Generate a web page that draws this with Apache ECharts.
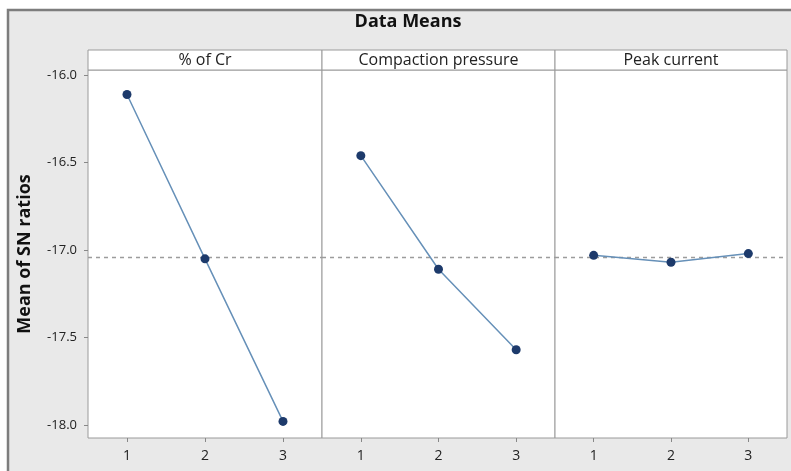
<!DOCTYPE html>
<html>
<head>
<meta charset="utf-8">
<script src="https://cdn.jsdelivr.net/npm/echarts@6/dist/echarts.min.js"></script>
<style>
html,body{margin:0;padding:0;background:#ffffff;}
#chart{width:791px;height:471px;}
</style>
</head>
<body>
<div id="chart"></div>
<script>
const levels = ['1', '2', '3'];
const factors = ['% of Cr', 'Compaction pressure', 'Peak current'];
const crMeans = [-16.11, -17.05, -17.98];
const pressureMeans = [-16.46, -17.11, -17.57];
const currentMeans = [-17.03, -17.07, -17.02];
const overallMean = -17.04;
const yTicks = [-18.0, -17.5, -17.0, -16.5, -16.0];
const yMin = -18.075, yMax = -15.97;

const seriesValues = [crMeans, pressureMeans, currentMeans];
const font = 'Open Sans';
const panelLeft = [88, 322, 555];
const panelWidth = [234, 233, 232];
const plotTop = 70, plotBottomGap = 471 - 438;

const chart = echarts.init(document.getElementById('chart'));

const grids = [], xAxes = [], yAxes = [], series = [], graphics = [];

graphics.push({
  type: 'rect', z: -10, silent: true,
  shape: { x: 8, y: 10, width: 800, height: 480 },
  style: { fill: '#e9e9e9', stroke: '#7d7d7d', lineWidth: 2.5 }
});
graphics.push({
  type: 'text', silent: true,
  style: { text: 'Data Means', x: 408, y: 22, align: 'center', verticalAlign: 'middle',
           font: 'bold 18px "Open Sans"', fill: '#111' }
});

for (let i = 0; i < 3; i++) {
  grids.push({
    left: panelLeft[i], width: panelWidth[i], top: plotTop, bottom: plotBottomGap,
    show: true, backgroundColor: '#ffffff', borderColor: '#9a9a9a', borderWidth: 1,
    containLabel: false
  });
  xAxes.push({
    type: 'category', gridIndex: i, data: levels, boundaryGap: true,
    axisLine: { show: false },
    axisTick: { show: true, alignWithLabel: true, length: 4, lineStyle: { color: '#888' } },
    axisLabel: { color: '#222', fontFamily: font, fontSize: 14, margin: 11 },
    splitLine: { show: false }
  });
  yAxes.push({
    type: 'value', gridIndex: i, min: yMin, max: yMax,
    axisLine: { show: false },
    axisTick: { show: i === 0, length: 4, customValues: yTicks, lineStyle: { color: '#888' } },
    axisLabel: { show: i === 0, customValues: yTicks, color: '#222', fontFamily: font, fontSize: 13,
                 margin: 11, formatter: v => v.toFixed(1) },
    splitLine: { show: false },
    name: i === 0 ? 'Mean of SN ratios' : '',
    nameLocation: 'middle', nameGap: 54, nameRotate: 90,
    nameTextStyle: { fontFamily: font, fontWeight: 'bold', fontSize: 18, color: '#111' }
  });
  series.push({
    type: 'line', xAxisIndex: i, yAxisIndex: i, data: seriesValues[i],
    symbol: 'circle', symbolSize: 9,
    itemStyle: { color: '#1d3a6b' },
    lineStyle: { color: '#6690b8', width: 1.5 },
    z: 5,
    markLine: {
      silent: true, symbol: 'none', label: { show: false },
      lineStyle: { color: '#9c9c9c', type: [4, 4], width: 1.3 },
      data: [{ yAxis: overallMean }]
    }
  });
  graphics.push({
    type: 'rect', silent: true,
    shape: { x: panelLeft[i], y: 50, width: panelWidth[i], height: 20 },
    style: { fill: '#ffffff', stroke: '#9a9a9a', lineWidth: 1 }
  });
  graphics.push({
    type: 'text', silent: true,
    style: { text: factors[i], x: panelLeft[i] + panelWidth[i] / 2, y: 60, align: 'center',
             verticalAlign: 'middle', font: '16px "Open Sans"', fill: '#222' }
  });
}

chart.setOption({
  backgroundColor: '#ffffff',
  animation: false,
  graphic: graphics,
  grid: grids,
  xAxis: xAxes,
  yAxis: yAxes,
  series: series
});
</script>
</body>
</html>
